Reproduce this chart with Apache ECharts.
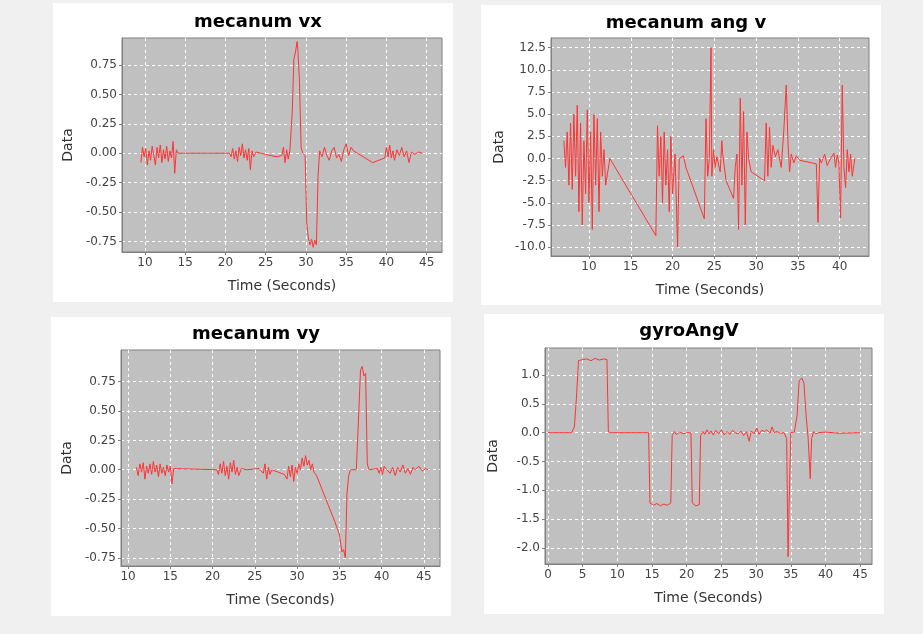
<!DOCTYPE html>
<html><head><meta charset="utf-8">
<script src="https://cdn.jsdelivr.net/npm/echarts@6/dist/echarts.min.js"></script>
<style>html,body{margin:0;padding:0;background:#f0f0f0}#c{width:923px;height:634px}</style>
</head><body><div id="c"></div>
<script>
const titles = ['mecanum vx','mecanum ang v','mecanum vy','gyroAngV'];
const vxData = [[9.5,-0.08],[9.7,0.05],[9.9,-0.03],[10.1,0.04],[10.3,-0.1],[10.5,0.02],[10.7,-0.06],[10.9,0.06],[11.1,-0.02],[11.3,-0.1],[11.5,0.05],[11.7,-0.04],[11.9,0.07],[12.1,-0.08],[12.3,0.03],[12.5,-0.05],[12.7,0.06],[12.9,-0.07],[13.1,0.02],[13.3,-0.04],[13.5,0.1],[13.7,-0.17],[13.9,0.03],[14.1,0],[20.5,0],[20.7,-0.03],[20.9,0.04],[21.1,-0.05],[21.3,0.02],[21.5,-0.07],[21.7,0.05],[21.9,-0.02],[22.1,0.08],[22.3,-0.04],[22.5,0.03],[22.7,-0.06],[22.9,0.04],[23.1,-0.14],[23.3,0.02],[23.5,-0.03],[23.8,0.01],[25,-0.01],[26.3,-0.03],[27,-0.02],[27.2,0.05],[27.4,-0.08],[27.6,0.03],[27.8,-0.05],[28,0.02],[28.3,0.35],[28.5,0.8],[28.7,0.86],[28.9,0.95],[29.0,0.88],[29.2,0.6],[29.4,0.05],[29.6,0.0],[29.9,-0.02],[30.1,-0.6],[30.3,-0.72],[30.5,-0.78],[30.7,-0.73],[30.9,-0.8],[31.1,-0.74],[31.3,-0.78],[31.5,-0.2],[31.7,0.02],[32,-0.03],[32.3,0.05],[32.6,-0.02],[32.9,-0.06],[33.2,0.02],[33.5,0.05],[33.8,-0.04],[34.1,-0.01],[34.4,-0.07],[34.7,0.03],[35,0.08],[35.3,-0.02],[35.6,0.05],[35.9,0.02],[38.3,-0.08],[39.8,-0.04],[40,0.05],[40.2,-0.03],[40.4,0.07],[40.6,-0.04],[40.8,0.02],[41,-0.06],[41.3,0.03],[41.6,-0.02],[41.9,0.05],[42.2,-0.03],[42.5,0.02],[42.8,-0.08],[43.1,0.01],[43.5,-0.01],[44,0.01],[44.5,0]];
const angData = [[7,2],[7.2,-1],[7.4,3],[7.6,-3],[7.8,4],[8,-3.5],[8.2,5],[8.4,-2],[8.6,6],[8.8,-6],[9,4],[9.2,-7.5],[9.4,2],[9.6,-4],[9.8,5.5],[10,-5],[10.2,3],[10.4,-8],[10.6,5],[10.8,-3],[11,4.5],[11.2,-6],[11.4,3],[11.6,-2],[11.8,1],[12,-3],[12.5,0],[18,-8.7],[18.2,3.7],[18.4,-2],[18.6,2.5],[18.8,-5],[19,3],[19.2,-3],[19.4,1],[19.6,-6],[19.8,2.5],[20,-4],[20.3,0.5],[20.6,-10],[20.8,0],[21.3,0.3],[21.6,-1],[23.8,-6.8],[24,4.5],[24.2,-2],[24.4,0],[24.6,12.5],[24.7,-2],[24.9,1],[25.1,-1],[25.3,0.2],[25.5,0.3],[25.7,-1.5],[25.9,2],[26,0.5],[26.4,-2.5],[27.3,-4.5],[27.5,-1],[27.7,0.5],[27.9,-8],[28.1,6.8],[28.3,-3],[28.5,5.3],[28.7,-7.5],[28.9,3],[29.1,0],[29.4,-1.5],[31,-2.5],[31.2,4],[31.4,-2],[31.6,3.5],[31.8,-1],[32,1.5],[32.3,0.2],[32.6,1],[33,-1],[33.3,3],[33.6,8.3],[33.8,2],[34,-1.5],[34.2,0.5],[34.5,-0.5],[34.8,0.3],[35.2,-0.2],[37.2,-0.6],[37.4,-7.2],[37.6,0],[37.8,-0.5],[38.2,0.5],[38.5,-0.8],[38.9,0],[39.3,0.6],[39.5,-1],[39.7,0.4],[39.9,-0.5],[40.1,-6.7],[40.3,8.3],[40.5,-1],[40.7,-3.3],[40.9,1],[41.1,-1.5],[41.3,0.5],[41.5,-2],[41.8,0]];
const vyData = [[11,0.02],[11.2,-0.05],[11.4,0.05],[11.6,-0.02],[11.8,0.06],[12,-0.08],[12.2,0.03],[12.4,-0.03],[12.6,0.05],[12.8,-0.04],[13,0.07],[13.2,-0.02],[13.4,0.04],[13.6,-0.06],[13.8,0.05],[14,-0.03],[14.2,0.02],[14.4,-0.05],[14.6,0.04],[14.8,-0.02],[15,0.03],[15.2,-0.12],[15.4,0.01],[15.6,0],[20.5,0],[20.7,-0.04],[20.9,0.05],[21.1,-0.03],[21.3,0.07],[21.5,-0.05],[21.7,0.03],[21.9,-0.08],[22.1,0.06],[22.3,-0.02],[22.5,0.08],[22.7,-0.04],[22.9,0.02],[23.1,-0.05],[23.4,0.01],[24,0],[25.5,0.01],[26,-0.03],[26.2,0.05],[26.4,-0.08],[26.6,0.02],[26.8,-0.04],[27,0],[28.5,-0.04],[28.8,-0.08],[29,0.03],[29.2,-0.06],[29.4,0.04],[29.6,-0.1],[29.8,0.02],[30,-0.03],[30.2,0.05],[30.4,0],[30.6,0.1],[30.8,0.03],[31,0.12],[31.2,0.04],[31.4,0.08],[31.6,0],[31.8,0.05],[32,-0.02],[32.3,-0.05],[34.5,-0.45],[35,-0.55],[35.3,-0.7],[35.5,-0.68],[35.7,-0.75],[35.9,-0.2],[36.1,-0.05],[36.3,0.0],[37,0.0],[37.3,0.5],[37.5,0.85],[37.7,0.88],[37.9,0.8],[38.1,0.82],[38.3,0.05],[38.5,0],[39.5,0.01],[39.7,-0.03],[39.9,0.02],[40.1,-0.04],[40.3,0.03],[40.6,0],[41,-0.03],[41.3,0.02],[41.6,-0.05],[41.9,0.02],[42.2,-0.02],[42.5,0.04],[42.8,-0.03],[43.1,0.01],[43.4,-0.04],[43.7,0.02],[44,0.0],[44.4,0.03],[44.8,-0.01],[45.2,0.01],[45.5,0]];
const gyroData = [[0,0],[3.4,0],[3.8,0.1],[4.1,0.6],[4.4,1.25],[5,1.27],[5.6,1.28],[6.2,1.25],[6.8,1.29],[7.4,1.26],[8,1.28],[8.5,1.27],[8.7,0.02],[9,0],[14.5,0],[14.7,-1.22],[15.2,-1.26],[15.7,-1.23],[16.2,-1.27],[16.7,-1.24],[17.2,-1.26],[17.7,-1.22],[17.9,-0.05],[18.2,0.02],[18.5,-0.03],[19,0.01],[19.5,-0.02],[20,0],[20.6,0],[20.8,-1.22],[21.3,-1.27],[21.8,-1.25],[22,-0.05],[22.3,0.02],[22.6,-0.03],[22.9,0.05],[23.2,-0.02],[23.5,0.03],[23.8,-0.04],[24.2,0.04],[24.6,-0.02],[25,0.05],[25.4,-0.04],[25.8,0.02],[26.2,-0.03],[26.6,0.04],[27,0],[27.4,-0.02],[27.8,0.03],[28.2,-0.05],[28.6,0.02],[29,-0.15],[29.3,0.03],[29.7,-0.02],[30.1,0.08],[30.4,-0.03],[30.8,0.04],[31.2,0.02],[31.5,0.05],[32,-0.01],[32.3,0.1],[32.6,0],[33,0.02],[33.5,-0.01],[34,0],[34.4,-0.1],[34.6,-2.15],[34.8,-1.0],[35,0],[35.5,0.01],[35.9,0.3],[36.2,0.9],[36.6,0.95],[36.9,0.85],[37.2,0.3],[37.5,-0.1],[37.8,-0.8],[38,-0.1],[38.3,0.02],[38.6,-0.02],[39,0],[40,0.01],[42,-0.01],[45,0]];
const xTicks1 = [10,15,20,25,30,35,40,45];
const xTicks2 = [10,15,20,25,30,35,40];
const xTicks3 = [10,15,20,25,30,35,40,45];
const xTicks4 = [0,5,10,15,20,25,30,35,40,45];
const yTicks1 = [-0.75,-0.5,-0.25,0,0.25,0.5,0.75];
const yTicks2 = [-10,-7.5,-5,-2.5,0,2.5,5,7.5,10,12.5];
const yTicks3 = [-0.75,-0.5,-0.25,0,0.25,0.5,0.75];
const yTicks4 = [-2,-1.5,-1,-0.5,0,0.5,1];

const panels = [
  {px:53,py:3,pw:400,ph:299,g:{left:122,top:38,width:320,height:214},xr:[7.15,46.9],yr:[-0.84,0.98],xt:xTicks1,yt:yTicks1,dec:2,d:vxData,ty:8},
  {px:481,py:5,pw:400,ph:300,g:{left:551,top:38,width:318,height:218},xr:[5.46,43.5],yr:[-11.0,13.6],xt:xTicks2,yt:yTicks2,dec:1,d:angData,ty:9},
  {px:51,py:317,pw:400,ph:299,g:{left:121,top:350,width:319,height:216},xr:[9.17,46.9],yr:[-0.82,1.02],xt:xTicks3,yt:yTicks3,dec:2,d:vyData,ty:320},
  {px:484,py:314,pw:400,ph:300,g:{left:545,top:348,width:327,height:216},xr:[-0.43,46.7],yr:[-2.28,1.47],xt:xTicks4,yt:yTicks4,dec:1,d:gyroData,ty:317}
];
const font = 'DejaVu Sans';
const grid=[],xAxis=[],yAxis=[],series=[],title=[],graphic=[];
panels.forEach((p,i)=>{
  graphic.push({type:'rect',z:-10,shape:{x:p.px,y:p.py,width:p.pw,height:p.ph},style:{fill:'#fff'}});
  title.push({text:titles[i],left:p.px+p.pw/2,top:p.ty,textAlign:'center',textStyle:{fontFamily:font,fontWeight:'bold',fontSize:18,color:'#000'}});
  grid.push(Object.assign({show:true,backgroundColor:'#c0c0c0',borderColor:'#808080',borderWidth:1},p.g));
  xAxis.push({type:'value',gridIndex:i,min:p.xr[0],max:p.xr[1],name:'Time (Seconds)',nameLocation:'middle',nameGap:27,
    nameTextStyle:{fontFamily:font,fontSize:14,color:'#333'},
    axisLine:{show:true,onZero:false,lineStyle:{color:'#808080'}},
    axisTick:{show:true,length:3,customValues:p.xt,lineStyle:{color:'#808080'}},
    axisLabel:{customValues:p.xt,fontFamily:font,fontSize:12,color:'#444',margin:5},
    splitLine:{show:true,lineStyle:{color:'#ffffff',type:[3,3],width:1}}});
  yAxis.push({type:'value',gridIndex:i,min:p.yr[0],max:p.yr[1],name:'Data',nameLocation:'middle',nameGap:p.dec===2?47:45,
    nameTextStyle:{fontFamily:font,fontSize:14,color:'#333'},
    axisLine:{show:true,onZero:false,lineStyle:{color:'#808080'}},
    axisTick:{show:true,length:3,customValues:p.yt,lineStyle:{color:'#808080'}},
    axisLabel:{customValues:p.yt,fontFamily:font,fontSize:12,color:'#444',margin:5,formatter:v=>v.toFixed(p.dec)},
    splitLine:{show:true,lineStyle:{color:'#ffffff',type:[3,3],width:1}}});
  series.push({type:'line',xAxisIndex:i,yAxisIndex:i,data:p.d,showSymbol:false,symbol:'none',lineStyle:{color:'#ff3333',width:1}});
});
const chart = echarts.init(document.getElementById('c'));
chart.setOption({animation:false,backgroundColor:'#f0f0f0',graphic,title,grid,xAxis,yAxis,series});
</script></body></html>
